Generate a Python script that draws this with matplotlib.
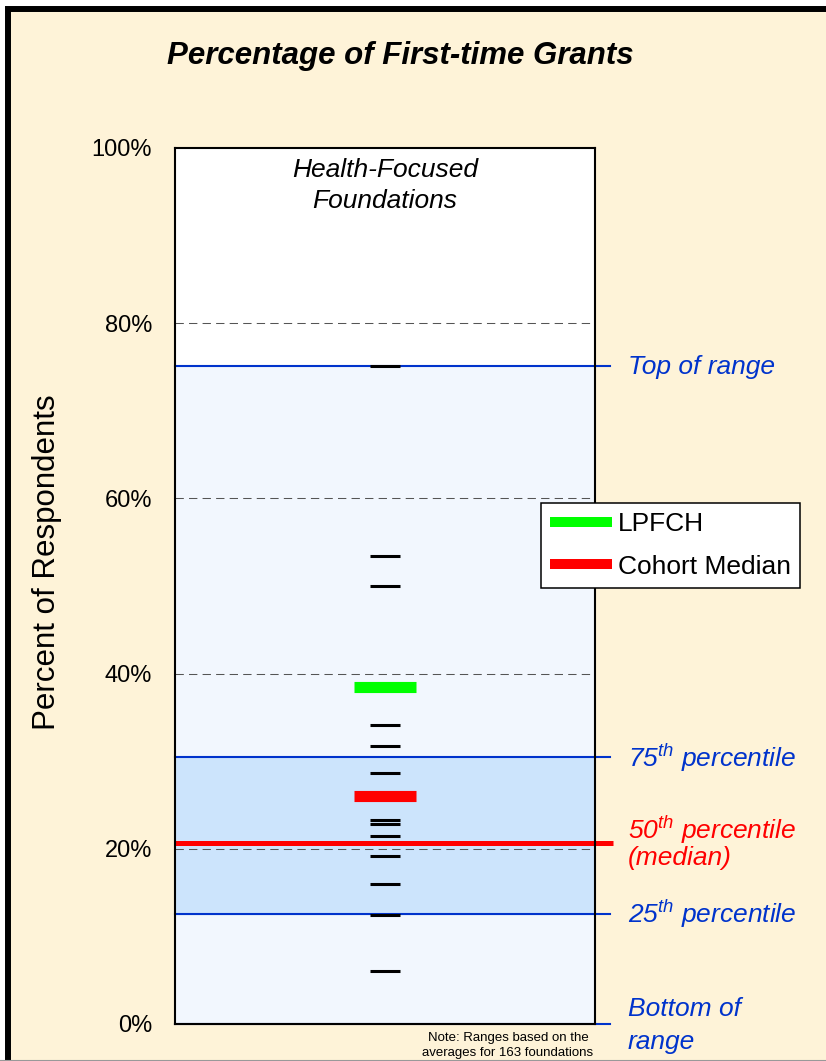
import matplotlib
matplotlib.use("Agg")
import matplotlib.pyplot as plt
from matplotlib.lines import Line2D
from matplotlib.patches import Rectangle

plt.rcParams['font.family'] = ['Liberation Sans', 'DejaVu Sans']
plt.rcParams['mathtext.fontset'] = 'custom'
plt.rcParams['mathtext.rm'] = 'Liberation Sans:italic'
plt.rcParams['mathtext.it'] = 'Liberation Sans:italic'
plt.rcParams['mathtext.default'] = 'it'

# ---------------- data ----------------
title = "Percentage of First-time Grants"
group_label = ["Health-Focused", "Foundations"]
foundation_values = [75.1, 53.4, 50.0, 34.1, 31.7, 28.7, 23.3, 22.8, 21.5, 19.2, 16.0, 12.4, 6.0]
lpfch_value = 38.5
cohort_median_value = 26.0
range_top = 75.1
pct_75 = 30.5
pct_50 = 20.7
pct_25 = 12.6
range_bottom = 0.0
ytick_values = [0, 20, 40, 60, 80, 100]
ytick_labels = ["0%", "20%", "40%", "60%", "80%", "100%"]
legend_labels = ["LPFCH", "Cohort Median"]
note_lines = ["Note: Ranges based on the", "averages for 163 foundations"]

# ---------------- layout helpers ----------------
W, H = 826, 1061
fig = plt.figure(figsize=(W / 100, H / 100), dpi=100)
fig.patch.set_facecolor('white')


def fx(px):
    return px / W


def fy(py):
    return 1 - py / H


BLUE = '#0033CC'
RED = '#FF0000'
GREEN = '#00FF00'
BEIGE = '#FEF3D8'

# outer frame
fig.add_artist(Rectangle((fx(8), fy(1080)), fx(850) - fx(8), fy(9) - fy(1080),
                         transform=fig.transFigure, facecolor=BEIGE,
                         edgecolor='black', linewidth=4.3, zorder=0))
fig.add_artist(Line2D([0, 1], [fy(1060), fy(1060)], transform=fig.transFigure,
                      color='#999999', lw=0.8, zorder=1))

# main axes
ax = fig.add_axes([fx(175), fy(1024), fx(595) - fx(175), fy(148) - fy(1024)])
ax.set_xlim(0, 1)
ax.set_ylim(0, 100)
ax.set_facecolor('white')
ax.axhspan(range_bottom, range_top, color='#F2F7FE', zorder=0)
ax.axhspan(pct_25, pct_75, color='#CCE4FC', zorder=0.5)

for y in ytick_values[1:-1]:
    ax.axhline(y, color='#555555', lw=0.75, ls=(0, (8, 5)), zorder=1)

# range lines extending beyond the plot
ext_blue = 1 + 15 / 420
ext_red = 1 + 18 / 420
for v in [range_top, pct_75, pct_25, range_bottom]:
    ax.plot([0, ext_blue], [v, v], color=BLUE, lw=1.5, clip_on=False, zorder=3)
ax.plot([0, ext_red], [pct_50, pct_50], color=RED, lw=3.6, clip_on=False,
        solid_capstyle='butt', zorder=3)

# individual foundation markers
half_small = 15 / 420
half_big = 31 / 420
ax.hlines(foundation_values, 0.5 - half_small, 0.5 + half_small, color='black',
          lw=2.2, zorder=4)
ax.hlines([lpfch_value], 0.5 - half_big, 0.5 + half_big, color=GREEN, lw=8, zorder=5)
ax.hlines([cohort_median_value], 0.5 - half_big, 0.5 + half_big, color=RED, lw=8, zorder=5)

for s in ax.spines.values():
    s.set_linewidth(1.5)
    s.set_color('black')
    s.set_zorder(6)

ax.set_xticks([])
ax.set_yticks(ytick_values)
ax.set_yticklabels(ytick_labels)
ax.tick_params(axis='y', length=0, pad=16.5, labelsize=17)

# texts
fig.text(fx(400), fy(64), title, fontsize=22.5, fontweight='bold', fontstyle='italic',
         ha='center', va='baseline')
fig.text(fx(385), fy(170), group_label[0], fontsize=19, fontstyle='italic',
         ha='center', va='center')
fig.text(fx(385), fy(201), group_label[1], fontsize=19, fontstyle='italic',
         ha='center', va='center')
fig.text(fx(47), fy(562), "Percent of Respondents", fontsize=22.5, rotation=90,
         ha='center', va='center')

lx = fx(628)
fig.text(lx, fy(367), "Top of range", color=BLUE, fontsize=19, fontstyle='italic', va='center')
fig.text(lx, fy(758), r"$75^{th}$ percentile", color=BLUE, fontsize=19, fontstyle='italic', va='center')
fig.text(lx, fy(830), r"$50^{th}$ percentile", color=RED, fontsize=19, fontstyle='italic', va='center')
fig.text(lx, fy(858), "(median)", color=RED, fontsize=19, fontstyle='italic', va='center')
fig.text(lx, fy(914), r"$25^{th}$ percentile", color=BLUE, fontsize=19, fontstyle='italic', va='center')
fig.text(lx, fy(1009), "Bottom of", color=BLUE, fontsize=19, fontstyle='italic', va='center')
fig.text(lx, fy(1042), "range", color=BLUE, fontsize=19, fontstyle='italic', va='center')

fig.text(fx(508), fy(1038), note_lines[0], fontsize=9.5, ha='center', va='center')
fig.text(fx(508), fy(1053), note_lines[1], fontsize=9.5, ha='center', va='center')

# legend
handles = [Line2D([], [], color=GREEN, lw=7.2, solid_capstyle='butt'),
           Line2D([], [], color=RED, lw=7.2, solid_capstyle='butt')]
leg = fig.legend(handles, legend_labels, loc='upper left',
                 bbox_to_anchor=(fx(541), fy(503)), bbox_transform=fig.transFigure,
                 borderaxespad=0, fontsize=19, frameon=True, fancybox=False,
                 borderpad=0.35, handlelength=2.35, handletextpad=0.2,
                 labelspacing=0.7)
leg.get_frame().set_edgecolor('black')
leg.get_frame().set_linewidth(1.1)
leg.get_frame().set_alpha(1)
leg.set_zorder(10)

fig.savefig("out.png", dpi=100, facecolor=fig.get_facecolor())
